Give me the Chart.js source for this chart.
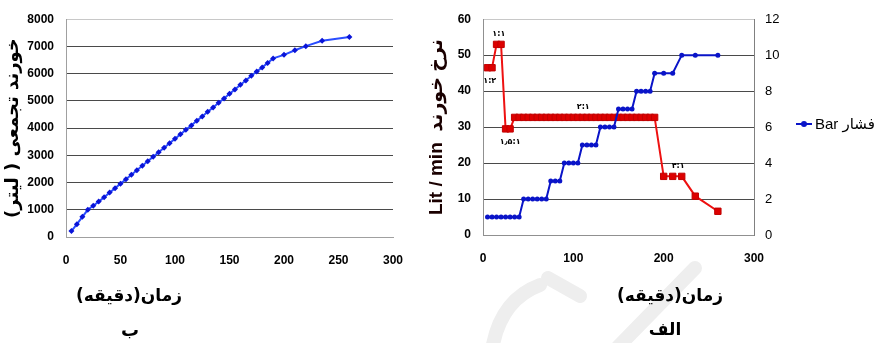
<!DOCTYPE html>
<html>
<head>
<meta charset="utf-8">
<script src="https://cdn.jsdelivr.net/npm/chart.js@4.4.1/dist/chart.umd.min.js"></script>
<style>
  html, body { margin: 0; padding: 0; background: #fff; width: 891px; height: 343px; overflow: hidden; }
  #wrap { position: relative; width: 891px; height: 343px; }
  canvas { position: absolute; }
  .lbl { position: absolute; font-family: "DejaVu Sans", sans-serif; font-weight: bold; color: #000;
         white-space: nowrap; transform: translate(-50%, -50%); }
  #legend { position: absolute; left: 796px; top: 114px; height: 20px; width: 95px; }
  #legend .ln { position: absolute; left: 0; top: 9px; width: 16px; height: 2px; background: #0a14c8; }
  #legend .dot { position: absolute; left: 5px; top: 7px; width: 6px; height: 6px; border-radius: 50%; background: #0a14c8; }
  #legend .tx { position: absolute; left: 19px; top: 0; font-family: "Liberation Sans", "DejaVu Sans", sans-serif;
                font-size: 15px; line-height: 20px; color: #000; white-space: nowrap; }
</style>
</head>
<body>
<div id="wrap">
  <canvas id="bg" width="891" height="343" style="left:0;top:0"></canvas>
  <canvas id="cumChart" width="420" height="343" style="left:0;top:0"></canvas>
  <canvas id="rateChart" width="471" height="343" style="left:420px;top:0"></canvas>

  <div class="lbl" dir="rtl" style="left:129px;top:295px;font-size:17px">زمان(دقیقه)</div>
  <div class="lbl" dir="rtl" style="left:130px;top:329px;font-size:18px">ب</div>
  <div class="lbl" dir="rtl" style="left:670px;top:295px;font-size:17px">زمان(دقیقه)</div>
  <div class="lbl" dir="rtl" style="left:665px;top:329px;font-size:17px">الف</div>

  <div id="legend">
    <div class="ln"></div><div class="dot"></div>
    <div class="tx" dir="rtl">فشار Bar</div>
  </div>
</div>

<script>
// Sampling times (minutes)
const times = [5, 10, 15, 20, 25, 30, 35, 40, 45, 50, 55, 60, 65, 70, 75, 80, 85, 90, 95, 100,
               105, 110, 115, 120, 125, 130, 135, 140, 145, 150, 155, 160, 165, 170, 175, 180, 185,
               190, 200, 210, 220, 235, 260];

// Cumulative filtrate volume (litres)
const cumulativeLitres = [220, 470, 740, 1000, 1150, 1300, 1460, 1630, 1790, 1960, 2120, 2290, 2450, 2620,
                          2780, 2950, 3110, 3280, 3440, 3610, 3770, 3940, 4100, 4270, 4430, 4600, 4760,
                          4930, 5090, 5260, 5420, 5590, 5750, 5920, 6080, 6230, 6390, 6560, 6690, 6860,
                          7010, 7210, 7350];

// Filtrate rate (Lit / min)
const feedRate = [46.5, 46.5, 53, 53, 29.5, 29.5, 32.7, 32.7, 32.7, 32.7, 32.7, 32.7, 32.7, 32.7,
                  32.7, 32.7, 32.7, 32.7, 32.7, 32.7, 32.7, 32.7, 32.7, 32.7, 32.7, 32.7, 32.7, 32.7,
                  32.7, 32.7, 32.7, 32.7, 32.7, 32.7, 32.7, 32.7, 32.7, 32.7, 16.3, 16.3, 16.3, 10.8, 6.6];

// Pressure (bar)
const pressureBar = [1, 1, 1, 1, 1, 1, 1, 1, 2, 2, 2, 2, 2, 2, 3, 3, 3, 4, 4, 4, 4, 5, 5, 5, 5,
                     6, 6, 6, 6, 7, 7, 7, 7, 8, 8, 8, 8, 9, 9, 9, 10, 10, 10];

// Mixing-ratio notes along the rate curve: text, time, rate
const ratioText = ['۱:۲', '۱:۱', '۱٫۵:۱', '۲:۱', '۴:۱'];
const ratioTime = [7.5, 17.5, 30, 111, 216];
const ratioRate = [46.5, 53, 29.5, 32.7, 16.3];
const ratioBelow = [true, false, true, false, false];

// Axis ranges
const cumAxis = { min: 0, max: 8000, step: 1000 };
const rateAxis = { min: 0, max: 60, step: 10 };
const pressAxis = { min: 0, max: 12, step: 2 };
const timeAxis = { min: 0, max: 300 };

const pts = (ys) => times.map((t, i) => ({ x: t, y: ys[i] }));
const plain = (v) => String(v);
const tickFont = { family: "'Liberation Sans', 'DejaVu Sans', sans-serif", size: 12, weight: 'bold' };
const gridColor = (top) => (ctx) => (ctx.tick && ctx.tick.value === top ? '#c8c8c8' : '#4a4a4a');

// faint background mark
(function () {
  const c = document.getElementById('bg').getContext('2d');
  c.strokeStyle = '#eeeeee';
  c.lineCap = 'round';
  c.lineWidth = 14;
  c.beginPath(); c.moveTo(492, 350); c.quadraticCurveTo(500, 300, 540, 285); c.stroke();
  c.beginPath(); c.moveTo(548, 278); c.lineTo(580, 296); c.stroke();
  c.beginPath(); c.moveTo(615, 350); c.lineTo(695, 268); c.stroke();
})();

new Chart(document.getElementById('cumChart'), {
  type: 'line',
  data: {
    datasets: [{
      label: 'خورند تجمعی',
      data: pts(cumulativeLitres),
      borderColor: '#2a4dff',
      backgroundColor: '#0a14d8',
      borderWidth: 2,
      pointStyle: 'rectRot',
      pointRadius: 3,
      pointBorderWidth: 0,
      tension: 0
    }]
  },
  options: {
    responsive: false,
    animation: false,
    devicePixelRatio: 1,
    layout: { padding: { top: 16, right: 27, left: 0, bottom: 0 } },
    plugins: { legend: { display: false }, tooltip: { enabled: false } },
    scales: {
      x: {
        type: 'linear', min: timeAxis.min, max: timeAxis.max,
        ticks: { stepSize: 50, color: '#000', font: tickFont, padding: 16, maxRotation: 0, callback: plain },
        grid: { display: false, drawTicks: false },
        border: { display: true, color: '#a0a0a0', width: 1 },
        afterFit: (s) => { s.height = 106; }
      },
      y: {
        min: cumAxis.min, max: cumAxis.max,
        ticks: { stepSize: cumAxis.step, color: '#000', font: tickFont, padding: 12, callback: plain },
        grid: { color: gridColor(cumAxis.max), drawTicks: false, lineWidth: 1 },
        border: { display: true, color: '#a0a0a0', width: 1 },
        title: { display: true, text: 'خورند تجمعی ( لیتر)', color: '#000',
                 font: { family: "'DejaVu Sans', sans-serif", size: 18, weight: 'bold' }, padding: { top: 3, bottom: 0 } },
        afterFit: (s) => { s.width = 66; }
      }
    }
  }
});

const ratioNotes = {
  id: 'ratioNotes',
  afterDatasetsDraw(chart) {
    const c = chart.ctx, x = chart.scales.x, y = chart.scales.y;
    c.save();
    c.font = "bold 8px 'DejaVu Sans', sans-serif";
    c.fillStyle = '#000';
    c.textAlign = 'center';
    c.textBaseline = 'middle';
    ratioText.forEach((t, i) => {
      const px = x.getPixelForValue(ratioTime[i]);
      const py = y.getPixelForValue(ratioRate[i]) + (ratioBelow[i] ? 13 : -10);
      c.fillText(t, px, py);
    });
    c.restore();
  }
};

new Chart(document.getElementById('rateChart'), {
  type: 'line',
  data: {
    datasets: [{
      label: 'فشار Bar',
      data: pts(pressureBar),
      yAxisID: 'y1',
      borderColor: '#0a14c8',
      backgroundColor: '#0a14c8',
      borderWidth: 2,
      pointStyle: 'circle',
      pointRadius: 2.5,
      pointBorderWidth: 0,
      tension: 0
    }, {
      label: 'نرخ خورند',
      data: pts(feedRate),
      yAxisID: 'y',
      borderColor: '#ee1111',
      backgroundColor: '#dd0000',
      borderWidth: 2,
      pointStyle: 'rect',
      pointRadius: 4.5,
      pointBorderColor: '#c00000',
      pointBorderWidth: 1,
      tension: 0
    }]
  },
  options: {
    responsive: false,
    animation: false,
    devicePixelRatio: 1,
    layout: { padding: { top: 17, right: 97, left: 0, bottom: 0 } },
    plugins: { legend: { display: false }, tooltip: { enabled: false } },
    scales: {
      x: {
        type: 'linear', min: timeAxis.min, max: timeAxis.max,
        ticks: { stepSize: 100, color: '#000', font: tickFont, padding: 16, maxRotation: 0, callback: plain },
        grid: { display: false, drawTicks: false },
        border: { display: true, color: '#909090', width: 1 },
        afterFit: (s) => { s.height = 108; }
      },
      y: {
        position: 'left',
        min: rateAxis.min, max: rateAxis.max,
        ticks: { stepSize: rateAxis.step, color: '#000', font: tickFont, padding: 12, callback: plain },
        grid: { color: gridColor(rateAxis.max), drawTicks: false, lineWidth: 1 },
        border: { display: true, color: '#909090', width: 1 },
        title: { display: true, text: 'Lit / min  نرخ خورند', color: '#1a0000',
                 font: { family: "'Liberation Sans', 'DejaVu Sans', sans-serif", size: 19, weight: 'bold' },
                 padding: { top: 5, bottom: 0 } },
        afterFit: (s) => { s.width = 63; }
      },
      y1: {
        position: 'right',
        min: pressAxis.min, max: pressAxis.max,
        ticks: { stepSize: pressAxis.step, color: '#000', font: { ...tickFont, weight: 'normal', size: 13 }, padding: 11, callback: plain },
        grid: { drawOnChartArea: false, drawTicks: false },
        border: { display: true, color: '#808080', width: 1 },
        afterFit: (s) => { s.width = 40; }
      }
    }
  },
  plugins: [ratioNotes]
});
</script>
</body>
</html>
